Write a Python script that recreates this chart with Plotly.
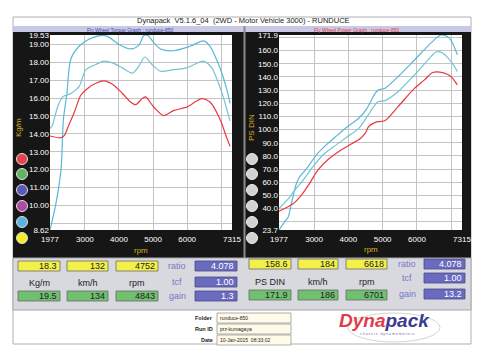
import plotly.graph_objects as go

# ---------------- data ----------------
tq_rpm_a = [1977, 2150, 2300, 2370, 2470, 2590, 2830, 3030, 3250, 3470, 3660, 4000, 4340, 4580, 4730, 4850, 5020, 5220, 5600, 6090, 6480, 6670, 6960, 7160, 7260]
tq_a = [8.62, 10.1, 12.0, 14.8, 16.2, 18.2, 18.9, 19.2, 19.4, 19.5, 19.45, 19.0, 18.75, 18.95, 19.5, 19.5, 19.1, 18.75, 18.65, 18.9, 19.2, 18.9, 17.7, 16.5, 15.7]

tq_rpm_b = [1977, 2040, 2200, 2350, 2590, 2830, 3030, 3320, 3560, 3810, 4100, 4390, 4580, 4760, 4970, 5220, 5600, 5990, 6480, 6720, 7010, 7256]
tq_b = [14.3, 14.45, 15.5, 16.07, 16.26, 16.64, 17.59, 17.88, 18.07, 17.97, 17.69, 17.4, 17.78, 18.3, 17.87, 17.5, 17.59, 17.69, 18.07, 17.69, 16.35, 14.73]

tq_rpm_r = [1977, 2300, 2400, 2540, 2690, 2880, 3080, 3320, 3560, 3810, 4100, 4340, 4490, 4680, 4780, 5020, 5310, 5600, 5990, 6430, 6670, 6960, 7160, 7256]
tq_r = [13.88, 13.78, 13.91, 14.54, 15.21, 16.16, 16.54, 16.83, 16.96, 16.77, 16.26, 15.78, 15.63, 15.97, 16.07, 15.5, 15.02, 15.3, 15.5, 15.97, 15.78, 14.83, 13.78, 13.3]

pw_rpm_a = [1977, 2150, 2243, 2338, 2482, 2577, 2819, 3058, 3345, 3682, 3970, 4303, 4545, 4784, 4880, 5071, 5454, 5935, 6415, 6703, 6942, 7180]
pw_a = [23.7, 30.3, 33.4, 43.6, 58.9, 64.0, 71.6, 80.5, 88.2, 95.8, 102.2, 108.6, 116.2, 127.7, 130.2, 131.5, 140.4, 153.1, 165.9, 171.9, 169.7, 156.9]

pw_rpm_b = [1977, 2289, 2433, 2675, 2963, 3250, 3633, 3970, 4303, 4545, 4784, 4879, 5071, 5454, 5935, 6415, 6559, 6749, 6991, 7180]
pw_b = [40.0, 48.7, 53.8, 61.5, 71.6, 80.5, 88.2, 94.5, 100.9, 109.8, 119.0, 121.3, 122.0, 128.9, 141.7, 155.6, 159.0, 158.2, 151.8, 144.2]

pw_rpm_r = [1977, 2387, 2626, 2865, 3106, 3440, 3777, 4113, 4352, 4496, 4591, 4784, 5071, 5454, 5935, 6222, 6461, 6798, 6991, 7180]
pw_r = [38.0, 43.6, 50.0, 58.9, 69.1, 78.0, 84.4, 89.5, 93.3, 97.3, 102.2, 105.5, 106.9, 117.6, 131.5, 137.8, 143.4, 142.9, 140.4, 134.0]

x_ticks = [1977, 3000, 4000, 5000, 6000, 7000, 7315]
x_text = ["1977", "3000", "4000", "5000", "6000", "", "7315"]
tq_ticks = [8.62, 9, 10, 11, 12, 13, 14, 15, 16, 17, 18, 19, 19.53]
tq_text = ["8.62", "", "10.00", "11.00", "12.00", "13.00", "14.00", "15.00", "16.00", "17.00", "18.00", "19.00", "19.53"]
pw_ticks = [23.7, 30, 40, 50, 60, 70, 80, 90, 100, 110, 120, 130, 140, 150, 160, 170, 171.9]
pw_text = ["23.7", "", "40.0", "50.0", "60.0", "70.0", "80.0", "90.0", "100.0", "110.0", "120.0", "130.0", "140.0", "150.0", "160.0", "", "171.9"]

left_hi = ["18.3", "132", "4752"]
left_lo = ["19.5", "134", "4843"]
left_units = ["Kg/m", "km/h", "rpm"]
left_side = ["4.078", "1.00", "1.3"]
right_hi = ["158.6", "184", "6618"]
right_lo = ["171.9", "186", "6701"]
right_units = ["PS DIN", "km/h", "rpm"]
right_side = ["4.078", "1.00", "13.2"]
side_labels = ["ratio", "tcf", "gain"]
legend_colors = ["#e8414b", "#5fb563", "#5a5ab4", "#b04aa0", "#5ab4e0", "#f2ec2a"]

# ---------------- helpers ----------------
W, H = 500, 354
shapes, annotations = [], []
FONT = "Liberation Sans, Arial, sans-serif"


def px(x):
    return x / W


def py(y):
    return 1 - y / H


def rect(x0, y0, x1, y1, fill, line=None, lw=0, layer="below"):
    shapes.append(dict(type="rect", xref="paper", yref="paper",
                       x0=px(x0), x1=px(x1), y0=py(y1), y1=py(y0),
                       fillcolor=fill, line=dict(color=line or fill, width=lw), layer=layer))


def vline(x, y0, y1, color, w=1):
    shapes.append(dict(type="line", xref="paper", yref="paper", x0=px(x), x1=px(x),
                       y0=py(y0), y1=py(y1), line=dict(color=color, width=w), layer="below"))


def text(x, y, s, size, color, xanchor="center", angle=0, bold=False):
    if bold:
        s = "<b>" + s + "</b>"
    annotations.append(dict(xref="paper", yref="paper", x=px(x), y=py(y), text=s,
                            showarrow=False, xanchor=xanchor, yanchor="middle",
                            textangle=angle, borderpad=0,
                            font=dict(size=size, color=color, family=FONT)))


# ---------------- background frame ----------------
rect(13, 17, 471, 344, "white", "#b0b0b0", 1)
rect(13, 26, 471, 258, "#161616")
rect(13, 26, 471, 32, "#c9c9e6")
vline(244.5, 26, 258, "#8a8a8a", 2)
rect(50, 35, 232, 230, "white")
rect(279, 35, 462, 230, "white")
rect(13, 258, 471, 310, "#d8d8df", "#a8a8b0", 1)

text(243, 21, "Dynapack  V5.1.6_04  (2WD - Motor Vehicle 3000) - RUNDUCE", 7.5, "#222")
text(130, 29.5, "Fly Wheel Torque Graph : runduce-850", 5, "#4848b0")
text(357, 29.5, "Fly Wheel Power Graph : runduce-850", 5, "#e03a3a")

text(18, 128, "Kg/m", 8, "#d9b21c", angle=-90)
text(141, 250, "rpm", 8, "#d9b21c")
text(251, 128, "PS DIN", 8, "#d9b21c", angle=-90)
text(371, 249, "rpm", 8, "#d9b21c")

# legend circles
cy = [159, 174, 190, 206, 222, 238]
for c, y in zip(legend_colors, cy):
    shapes.append(dict(type="circle", xref="paper", yref="paper", x0=px(16.5), x1=px(27.5),
                       y0=py(y + 5.5), y1=py(y - 5.5), fillcolor=c,
                       line=dict(color="#e0e0e0", width=1), layer="above"))
    shapes.append(dict(type="circle", xref="paper", yref="paper", x0=px(246.5), x1=px(257.5),
                       y0=py(y + 5.5), y1=py(y - 5.5), fillcolor="#d2d2d2",
                       line=dict(color="#f0f0f0", width=1), layer="above"))

# ---------------- readout panel ----------------
YEL, GRN, BLU, LAB = "#f4f04a", "#70c070", "#6a6abf", "#7777c4"


def group(xs, hi, lo, units, side, yh, yl, yu, sx, sy, labx):
    for (x0, x1), v in zip(xs, hi):
        rect(x0, yh, x1, yh + 10, YEL, "#6a6a6a", 0.8)
        text(x1 - 2, yh + 5, v, 9, "#222", xanchor="right")
    for (x0, x1), v in zip(xs, lo):
        rect(x0, yl, x1, yl + 10, GRN, "#6a6a6a", 0.8)
        text(x1 - 2, yl + 5, v, 9, "#222", xanchor="right")
    for (x0, x1), u in zip(xs, units):
        text((x0 + x1) / 2, yu, u, 9, "#222")
    for y, v, lab in zip(sy, side, side_labels):
        rect(sx[0], y, sx[1], y + 10, BLU, "#4a4a8a", 0.8)
        text(sx[1] - 2, y + 5, v, 9, "white", xanchor="right")
        text(labx, y + 5, lab, 9, LAB)


group([(18, 60), (67, 108), (116, 158)], left_hi, left_lo, left_units, left_side,
      261, 291, 283, (195, 237), [261, 277, 291], 177)
group([(249, 291), (298, 338), (346, 387)], right_hi, right_lo, right_units, right_side,
      259, 290, 282, (424, 465), [259, 273, 289], 407)

# ---------------- info area ----------------
info_labels = ["Folder", "Run ID", "Date"]
info_vals = ["runduce-850", "prz-kumagaya", "10-Jan-2015  08:33:02"]
for i, (lab, val) in enumerate(zip(info_labels, info_vals)):
    y0 = 313 + i * 11
    rect(217, y0, 291, y0 + 10, "#fffbe8", "#9a9a9a", 0.8)
    text(214, y0 + 5, lab, 5.5, "#222", xanchor="right", bold=True)
    text(219, y0 + 5, val, 5, "#222", xanchor="left")

shapes.append(dict(type="circle", xref="paper", yref="paper", x0=px(348), x1=px(440),
                   y0=py(342), y1=py(313), line=dict(color="#c8c8c8", width=0.8), layer="below"))
annotations.append(dict(xref="paper", yref="paper", x=px(384), y=py(320), showarrow=False,
                        xanchor="center", yanchor="middle", borderpad=0,
                        text="<b><i><span style='color:#e23c48'>Dyna</span><span style='color:#3a3a8e'>pack</span></i></b>",
                        font=dict(size=19, family=FONT)))
text(387, 334, "c h a s s i s   d y n a m o m e t e r s", 3.5, "#6a6aa0")

# ---------------- traces ----------------
fig = go.Figure()
CY1, CY2, RED = "#58b8d8", "#72c4d4", "#e8383e"
LW = 1.2
fig.add_trace(go.Scatter(x=tq_rpm_a, y=tq_a, mode="lines", line=dict(color=CY1, width=LW, shape="spline", smoothing=0.8), xaxis="x", yaxis="y"))
fig.add_trace(go.Scatter(x=tq_rpm_b, y=tq_b, mode="lines", line=dict(color=CY2, width=LW, shape="spline", smoothing=0.8), xaxis="x", yaxis="y"))
fig.add_trace(go.Scatter(x=tq_rpm_r, y=tq_r, mode="lines", line=dict(color=RED, width=LW, shape="spline", smoothing=0.8), xaxis="x", yaxis="y"))
fig.add_trace(go.Scatter(x=pw_rpm_a, y=pw_a, mode="lines", line=dict(color=CY1, width=LW, shape="spline", smoothing=0.8), xaxis="x2", yaxis="y2"))
fig.add_trace(go.Scatter(x=pw_rpm_b, y=pw_b, mode="lines", line=dict(color=CY2, width=LW, shape="spline", smoothing=0.8), xaxis="x2", yaxis="y2"))
fig.add_trace(go.Scatter(x=pw_rpm_r, y=pw_r, mode="lines", line=dict(color=RED, width=LW, shape="spline", smoothing=0.8), xaxis="x2", yaxis="y2"))

ax_common = dict(showgrid=True, gridcolor="#c4c4c4", gridwidth=1, zeroline=False, showline=False,
                 ticks="", tickfont=dict(color="white", size=8, family=FONT), tickmode="array",
                 automargin=False, fixedrange=True)
ydom = [py(230), py(35)]
fig.update_layout(
    width=W, height=H, margin=dict(l=0, r=0, t=0, b=0),
    paper_bgcolor="white", plot_bgcolor="rgba(0,0,0,0)", showlegend=False,
    font=dict(family=FONT),
    xaxis=dict(domain=[px(50), px(232)], range=[1977, 7315], tickvals=x_ticks, ticktext=x_text, anchor="y", ticklabelstandoff=3, **ax_common),
    yaxis=dict(domain=ydom, range=[8.62, 19.53], tickvals=tq_ticks, ticktext=tq_text, anchor="x", **ax_common),
    xaxis2=dict(domain=[px(279), px(462)], range=[1977, 7315], tickvals=x_ticks, ticktext=x_text, anchor="y2", ticklabelstandoff=3, **ax_common),
    yaxis2=dict(domain=ydom, range=[23.7, 171.9], tickvals=pw_ticks, ticktext=pw_text, anchor="x2", **ax_common),
    shapes=shapes, annotations=annotations,
)
fig.write_html("out.html")
